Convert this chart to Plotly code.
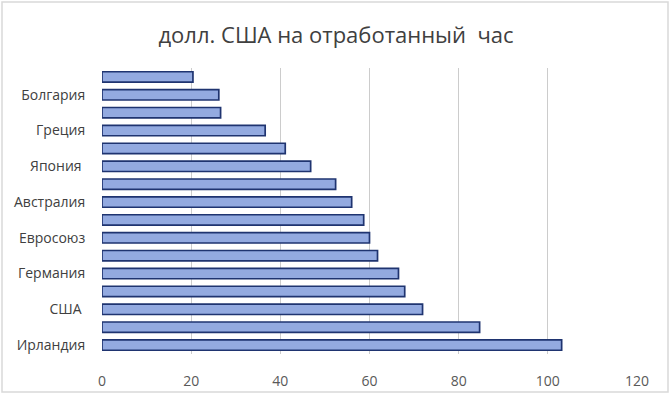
import plotly.graph_objects as go

# Values ordered from bottom of chart to top
values = [103.1, 84.7, 71.9, 67.9, 66.5, 61.8, 60.0, 58.7, 56.0, 52.4, 46.8, 41.1, 36.6, 26.6, 26.2, 20.4]
positions = list(range(len(values)))
# Only every other category is labelled in the original
tick_positions = [0, 2, 4, 6, 8, 10, 12, 14]
tick_labels = ["Ирландия", "США ", "Германия", "Евросоюз", "Австралия", "Япония ", "Греция", "Болгария"]
x_ticks = [0, 20, 40, 60, 80, 100, 120]
title_text = "долл. США на отработанный  час"

W, H = 672, 397
ml, mr, mt, mb = 102, 35, 68, 43

fig = go.Figure(go.Bar(
    x=values, y=positions, orientation="h",
    marker=dict(color="#93AAE0", line=dict(color="#1F3470", width=1.7)),
    width=0.58,
))

fig.update_layout(
    width=W, height=H,
    margin=dict(l=ml, r=mr, t=mt, b=mb, autoexpand=False),
    paper_bgcolor="white", plot_bgcolor="white",
    font=dict(family="Open Sans, Noto Sans, sans-serif", color="#595959", size=12),
    title=dict(text=title_text, x=0.5, xref="container", xanchor="center",
               y=1 - 35 / H, yref="container", yanchor="middle",
               font=dict(size=22, color="#404040"), automargin=False),
    showlegend=False,
)
fig.update_xaxes(range=[0, 120], tickvals=x_ticks, showgrid=True, gridcolor="#CCCCCC", gridwidth=1.3,
                 zeroline=False, showline=False, ticks="outside", ticklen=14,
                 tickcolor="rgba(0,0,0,0)", automargin=False,
                 tickfont=dict(size=14, color="#595959"))
fig.update_yaxes(range=[-0.5, len(values) - 0.5], tickvals=tick_positions, ticktext=tick_labels,
                 showgrid=False, zeroline=False, showline=False, ticks="outside", ticklen=13,
                 tickcolor="rgba(0,0,0,0)", automargin=False,
                 tickfont=dict(size=14, color="#404040"))

pw, ph = W - ml - mr, H - mt - mb
fig.add_shape(type="rect", xref="paper", yref="paper",
              x0=(2 - ml) / pw, x1=(W - 4 - ml) / pw,
              y0=-(mb - 5) / ph, y1=1 + (mt - 2) / ph,
              line=dict(color="#D9D9D9", width=1.5), fillcolor="rgba(0,0,0,0)", layer="below")

fig.write_html("out.html", config={"displayModeBar": False},
               post_script="document.body.style.margin='0';document.body.style.overflow='hidden';")
